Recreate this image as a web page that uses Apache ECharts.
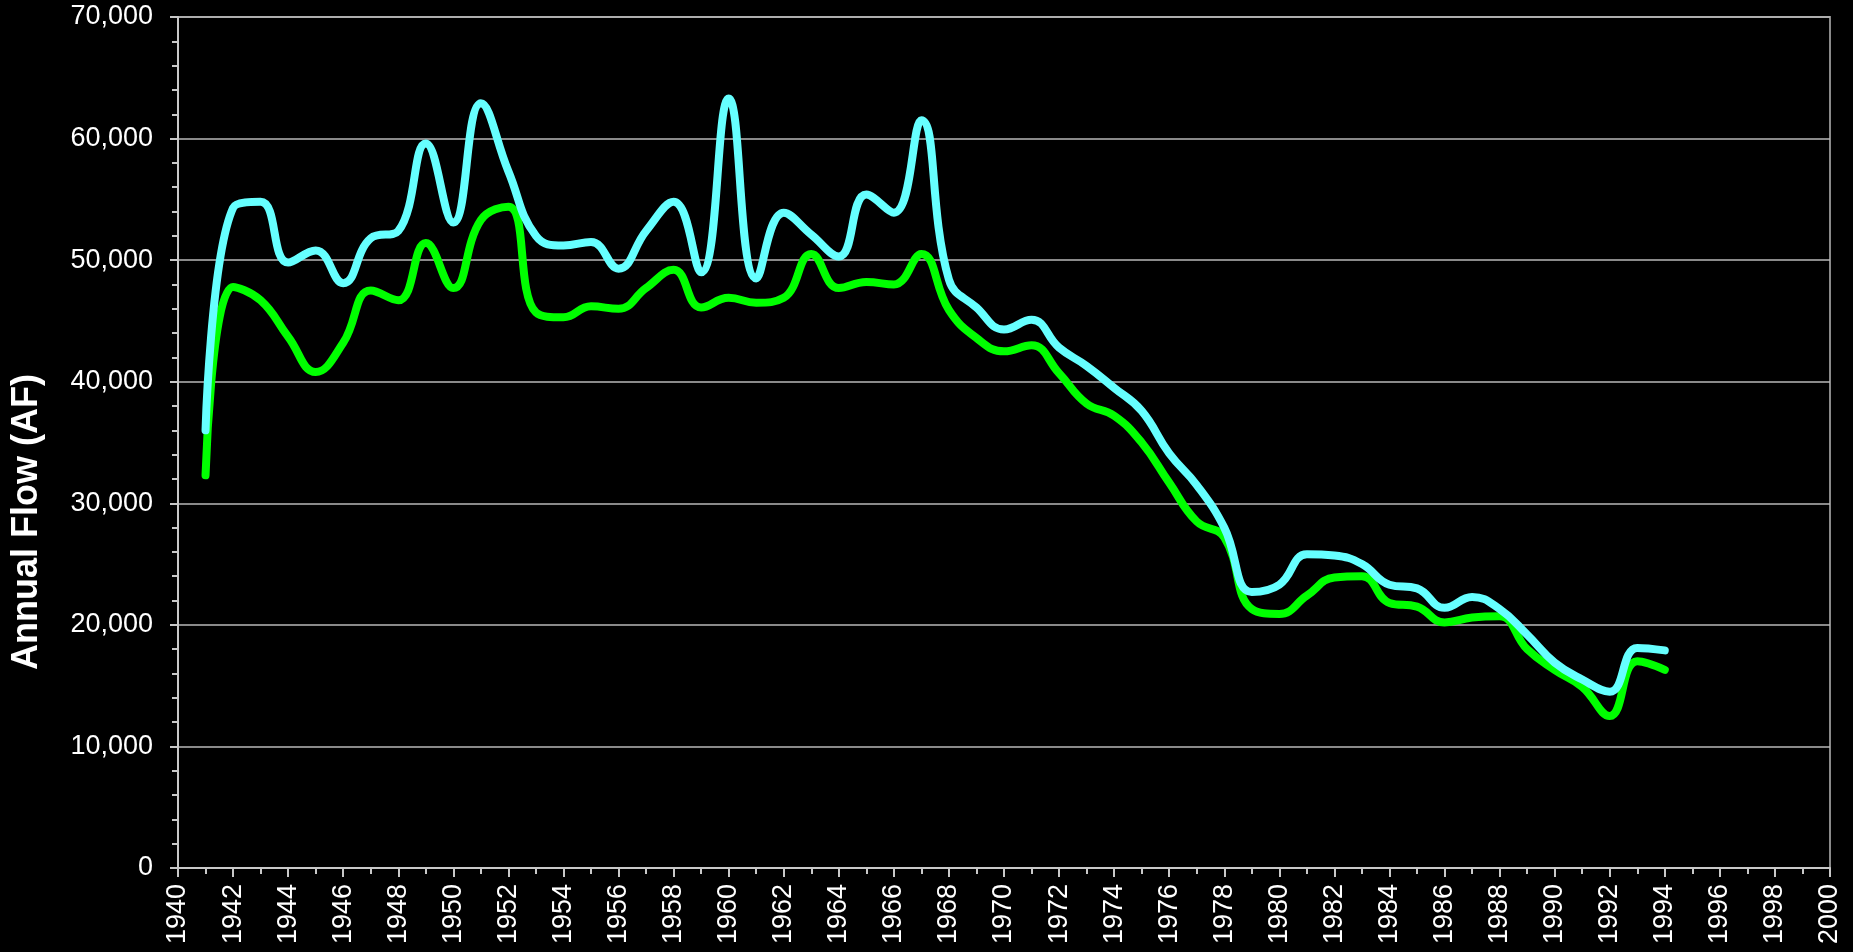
<!DOCTYPE html>
<html>
<head>
<meta charset="utf-8">
<title>Annual Flow</title>
<script src="https://cdn.jsdelivr.net/npm/echarts@6/dist/echarts.min.js"></script>
<style>
  html, body { margin: 0; padding: 0; background: #000; }
  #chart { width: 1853px; height: 952px; }
</style>
</head>
<body>
<div id="chart"></div>
<script>
// years 1941..1994
const years = [1941, 1942, 1943, 1944, 1945, 1946, 1947, 1948, 1949, 1950,
  1951, 1952, 1953, 1954, 1955, 1956, 1957, 1958, 1959, 1960,
  1961, 1962, 1963, 1964, 1965, 1966, 1967, 1968, 1969, 1970,
  1971, 1972, 1973, 1974, 1975, 1976, 1977, 1978, 1979, 1980,
  1981, 1982, 1983, 1984, 1985, 1986, 1987, 1988, 1989, 1990,
  1991, 1992, 1993, 1994];

// upper (cyan) line
const cyanFlow = [36000, 54300, 54800, 49800, 50800, 48100, 51800, 52400, 59600, 53100,
  62900, 57300, 52000, 51200, 51500, 49300, 52400, 54800, 49000, 63300,
  48500, 53900, 52100, 50300, 55400, 53900, 61500, 48400, 46100, 44300,
  45100, 42800, 41300, 39500, 37600, 34100, 31500, 28000, 22700, 23300,
  25800, 25700, 25000, 23300, 23000, 21400, 22300, 21300, 19200, 16900,
  15500, 14500, 18100, 17900];

// lower (green) line
const greenFlow = [32300, 47800, 46700, 43700, 40800, 43200, 47500, 46700, 51400, 47700,
  53300, 54400, 45700, 45300, 46200, 46000, 47700, 49200, 46100, 46900,
  46500, 46900, 50500, 47700, 48200, 48000, 50500, 45900, 43600, 42500,
  43000, 40700, 38200, 37200, 35000, 31700, 28500, 27200, 21300, 20900,
  22400, 23900, 24000, 21800, 21500, 20200, 20600, 20700, 18000, 16300,
  14900, 12500, 17000, 16300];

const yTitle = 'Annual Flow (AF)';

const font = 'Liberation Sans, Arial, sans-serif';
const pair = (arr) => years.map((y, i) => [y, arr[i]]);

const chart = echarts.init(document.getElementById('chart'));
chart.setOption({
  animation: false,
  backgroundColor: '#000',
  grid: {
    left: 178, right: 23, top: 17, bottom: 84,
    show: true, borderColor: '#8a8a8a', borderWidth: 2
  },
  graphic: [{
    type: 'text',
    x: 27, y: 522,
    rotation: Math.PI / 2,
    style: {
      text: yTitle,
      fill: '#fff',
      font: 'bold 36px ' + font,
      textAlign: 'center',
      textVerticalAlign: 'middle'
    }
  }],
  xAxis: {
    type: 'value',
    min: 1940, max: 2000, interval: 2,
    axisLine: { show: true, lineStyle: { color: '#c8c8c8', width: 2 } },
    axisTick: { show: true, length: 9, lineStyle: { color: '#c8c8c8', width: 2 } },
    minorTick: { show: true, splitNumber: 2, length: 6, lineStyle: { color: '#c8c8c8', width: 2 } },
    splitLine: { show: false },
    axisLabel: {
      rotate: 90, margin: 16, color: '#fff', fontSize: 27, fontFamily: font,
      formatter: (v) => String(v)
    }
  },
  yAxis: {
    type: 'value',
    min: 0, max: 70000, interval: 10000,
    axisLine: { show: true, lineStyle: { color: '#c8c8c8', width: 2 } },
    axisTick: { show: true, length: 8, lineStyle: { color: '#c8c8c8', width: 2 } },
    minorTick: { show: true, splitNumber: 5, length: 6, lineStyle: { color: '#c8c8c8', width: 2 } },
    splitLine: { show: true, lineStyle: { color: '#b8b8b8', width: 1.5 } },
    axisLabel: {
      margin: 25, color: '#fff', fontSize: 27, fontFamily: font,
      formatter: (v) => v.toLocaleString('en-US')
    }
  },
  series: [
    {
      type: 'line', data: pair(greenFlow), smooth: 0.45, showSymbol: false,
      lineStyle: { color: '#00ff00', width: 8, cap: 'round', join: 'round' }
    },
    {
      type: 'line', data: pair(cyanFlow), smooth: 0.45, showSymbol: false,
      lineStyle: { color: '#66ffff', width: 8, cap: 'round', join: 'round' }
    }
  ]
});
</script>
</body>
</html>
